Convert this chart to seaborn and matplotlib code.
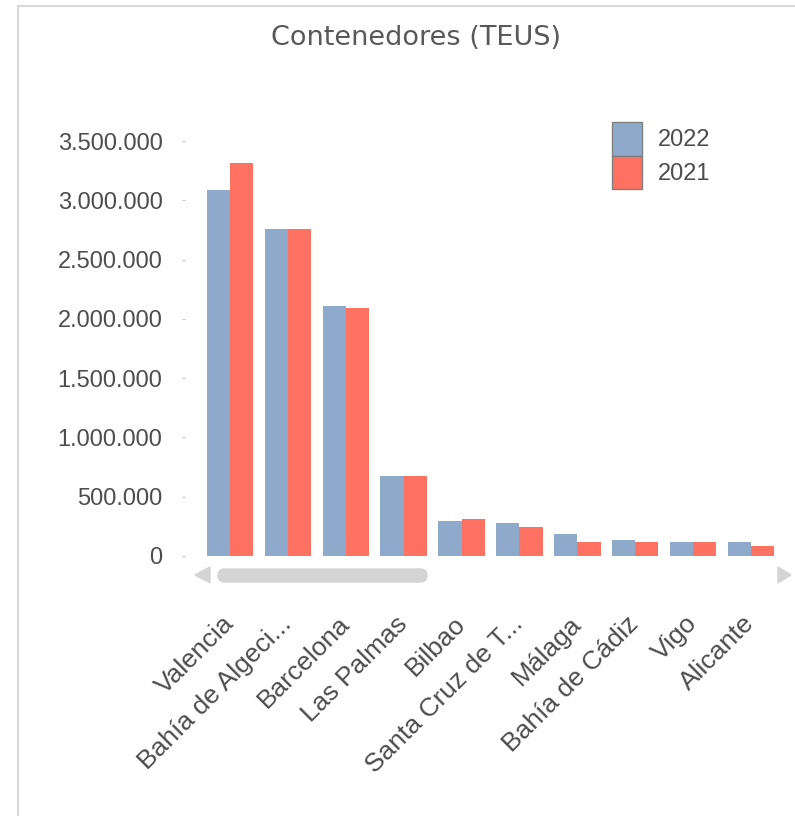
import matplotlib
matplotlib.use("Agg")
import matplotlib.pyplot as plt
import numpy as np
import pandas as pd
import seaborn as sns
from matplotlib.patches import Patch, Polygon, FancyBboxPatch
from matplotlib.lines import Line2D
from matplotlib.ticker import FuncFormatter

# datos (TEUS)
puertos = ["Valencia", "Bahía de Algeci...", "Barcelona", "Las Palmas", "Bilbao",
           "Santa Cruz de T...", "Málaga", "Bahía de Cádiz", "Vigo", "Alicante"]
teus_2022 = [3087000, 2758000, 2108000, 677000, 295000, 276000, 188000, 138000, 118000, 118000]
teus_2021 = [3315000, 2758000, 2092000, 677000, 312000, 242000, 118000, 118000, 118000, 84000]
anios = ["2022", "2021"]
y_ticks = [0, 500000, 1000000, 1500000, 2000000, 2500000, 3000000, 3500000]

BLUE = "#8EA9C9"
RED = "#FF7262"
GREY_TXT = "#4d4d4d"
W, H = 795, 816

sns.set_theme(style="white")
plt.rcParams["font.family"] = ["Liberation Sans", "DejaVu Sans"]

df = pd.DataFrame({
    "puerto": puertos * 2,
    "teus": teus_2022 + teus_2021,
    "anio": [anios[0]] * len(puertos) + [anios[1]] * len(puertos),
})


def px(x, y):
    # pixel -> figure fraction
    return x / W, 1 - y / H


fig = plt.figure(figsize=(W / 100, H / 100), dpi=100)
fig.patch.set_facecolor("white")
ax = fig.add_axes([201 / W, (H - 556) / H, (780 - 201) / W, (556 - 141) / H])

sns.barplot(data=df, x="puerto", y="teus", hue="anio", order=puertos, hue_order=anios,
            palette=[BLUE, RED], saturation=1, width=0.8, legend=False, linewidth=0, ax=ax)

ax.set_xlim(-0.5, len(puertos) - 0.5)
ax.set_ylim(0, 3500000)
ax.set_xlabel("")
ax.set_ylabel("")
ax.set_yticks(y_ticks)
ax.yaxis.set_major_formatter(FuncFormatter(lambda v, p: f"{int(v):,}".replace(",", ".")))
for s in ax.spines.values():
    s.set_visible(False)
ax.spines["left"].set_position(("outward", 11.5))
ax.tick_params(axis="y", left=True, length=2.2, width=1, color="#c8c8c8", pad=14,
               labelsize=17, labelcolor=GREY_TXT)
ax.set_xticks(range(len(puertos)))
ax.set_xticklabels(puertos, rotation=45, ha="right", va="center", rotation_mode="anchor")
ax.tick_params(axis="x", bottom=False, length=0, pad=46, labelsize=19, labelcolor=GREY_TXT)
ax.grid(False)

fig.text(*px(416, 38), "Contenedores (TEUS)", ha="center", va="center",
         fontsize=19.5, family="DejaVu Sans", color="#595959")

# leyenda: alto del parche = fs*(0.65*hh + 0.245)
fs = 17
fpx = fs * 100 / 72
hh = (33.5 / fpx - 0.245) / 0.65
handles = [Patch(facecolor=BLUE, edgecolor="#7f7f7f", lw=1),
           Patch(facecolor=RED, edgecolor="#7f7f7f", lw=1)]
fig.legend(handles, anios, loc="upper left", bbox_to_anchor=px(612, 122), frameon=False,
           fontsize=fs, handlelength=30 / fpx, handleheight=hh, labelspacing=0,
           handletextpad=16 / fpx, borderpad=0, borderaxespad=0, labelcolor=GREY_TXT)

# barra de desplazamiento y marco
SCROLL = "#d4d4d4"
fig.patches.append(Polygon([px(195, 575), px(210, 567), px(210, 583)], closed=True,
                           transform=fig.transFigure, color=SCROLL))
fig.patches.append(Polygon([px(778, 567), px(778, 583), px(791, 575)], closed=True,
                           transform=fig.transFigure, color=SCROLL))
x0, y0 = px(218, 582)
fig.patches.append(FancyBboxPatch((x0, y0), (427 - 218) / W, 13 / H,
                                  boxstyle=f"round,pad=0,rounding_size={6.5 / W}",
                                  transform=fig.transFigure, color=SCROLL))
FRAME = "#d9d9d9"
fig.lines.append(Line2D([px(18, 6)[0], 1], [px(18, 6)[1]] * 2, transform=fig.transFigure,
                        color=FRAME, lw=1.5))
fig.lines.append(Line2D([px(18, 6)[0]] * 2, [px(18, 6)[1], 0], transform=fig.transFigure,
                        color=FRAME, lw=1.5))

fig.savefig("out.png", dpi=100, facecolor="white")
